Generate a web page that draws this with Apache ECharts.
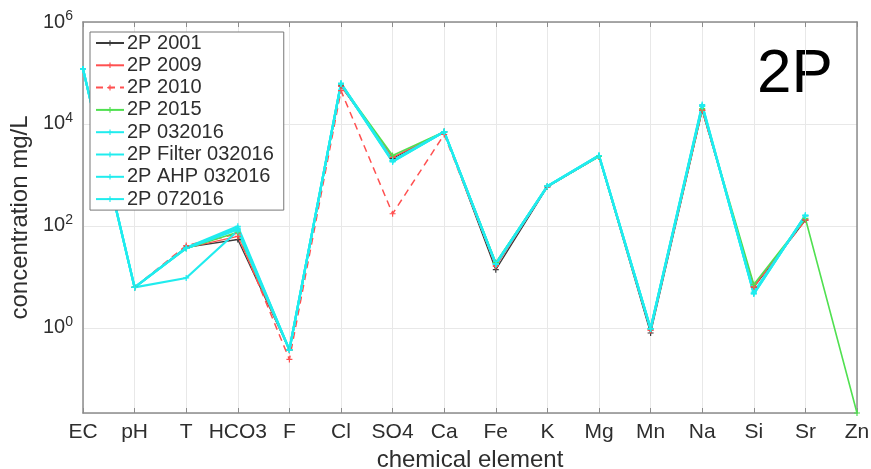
<!DOCTYPE html>
<html>
<head>
<meta charset="utf-8">
<script src="https://cdn.jsdelivr.net/npm/echarts@6/dist/echarts.min.js"></script>
<style>html,body{margin:0;padding:0;background:#fff}#c{width:871px;height:469px}</style>
</head>
<body>
<div id="c"></div>
<script>
const categories = ['EC','pH','T','HCO3','F','Cl','SO4','Ca','Fe','K','Mg','Mn','Na','Si','Sr','Zn'];
const seriesNames = ['2P 2001','2P 2009','2P 2010','2P 2015','2P 032016','2P Filter 032016','2P AHP 032016','2P 072016'];
const s2001       = [null, 6.2, 38, 54, 0.37, 56000, 2100, 7000, 13.8, 580, 2300, 0.79, 18500, 6.3, 130, null];
const s2009       = [null, 6.2, 37, 62, 0.36, 55000, 2200, 7000, 16, 590, 2300, 0.9, 19000, 6.5, 135, null];
const s2010       = [null, 6.2, 41, 70, 0.24, 45000, 173, 6200, 17, 600, 2300, 0.9, 18500, 6.3, 130, null];
const s2015       = [null, 6.2, 36, 75, 0.37, 60000, 2400, 7000, 19, 600, 2300, 0.95, 20000, 7.1, 140, 0.0213];
const s032016     = [120000, 6.2, 37, 98, 0.37, 63000, 1900, 7000, 18, 600, 2400, 0.97, 23000, 4.7, 160, null];
const sFilter     = [120000, 6.2, 37, 90, 0.37, 62000, 1850, 7000, 18, 600, 2400, 0.95, 22500, 4.8, 158, null];
const sAHP        = [120000, 6.2, 36, 85, 0.37, 61000, 1800, 7000, 17.5, 600, 2350, 0.95, 22000, 5.0, 155, null];
const s072016     = [120000, 6.2, 9.5, 80, 0.37, 62000, 1900, 7000, 18, 600, 2400, 0.97, 24000, 4.6, 162, null];
const seriesData = [s2001, s2009, s2010, s2015, s032016, sFilter, sAHP, s072016];

const colors = ['#3a3a3a','#ff5050','#ff5050','#50e050','#20ecee','#20ecee','#20ecee','#20ecee'];
const dashes = ['solid','solid','dashed','solid','solid','solid','solid','solid'];
const widths = [1.3,1.3,1.5,1.6,2.2,2.2,2.2,2.2];
const plus = 'path://M4,0H6V4H10V6H6V10H4V6H0V4H4Z';

const chart = echarts.init(document.getElementById('c'));
const txt = '#2e2e2e';
const axisCol = '#8c8c8c';
const yLabel = {
  show: true, margin: 10, color: txt,
  formatter: function (v) {
    const l = Math.log10(v);
    const e = Math.round(l);
    if (Math.abs(l - e) > 1e-6 || e % 2 !== 0) return '';
    return '{b|10}{s|' + e + '}';
  },
  rich: {
    b: { fontSize: 20, fontFamily: 'Liberation Sans', color: txt, lineHeight: 26 },
    s: { fontSize: 14, fontFamily: 'Liberation Sans', color: txt, verticalAlign: 'top', lineHeight: 26 }
  }
};
const option = {
  animation: false,
  backgroundColor: '#fff',
  textStyle: { fontFamily: 'Liberation Sans' },
  grid: { left: 83, right: 14, top: 22, bottom: 56, containLabel: false, outerBoundsMode: 'none' },
  legend: {
    orient: 'vertical', left: 90, top: 32,
    data: seriesNames,
    backgroundColor: '#fff', borderColor: '#777', borderWidth: 1,
    padding: [1, 10, 1, 5], itemGap: 2.3, itemWidth: 28, itemHeight: 7,
    textStyle: { fontSize: 20, lineHeight: 20, color: txt, fontFamily: 'Liberation Sans', padding: [0,0,0,-2] }
  },
  graphic: [{
    type: 'text', left: 757, top: 44,
    style: { text: '2P', font: '62px "Liberation Sans"', fill: '#000' }
  }],
  xAxis: [{
    type: 'category', data: categories, boundaryGap: false,
    name: 'chemical element', nameLocation: 'middle', nameGap: 33,
    nameTextStyle: { fontSize: 24, color: txt },
    axisLine: { lineStyle: { color: axisCol, width: 1.5 } },
    axisTick: { inside: true, length: 5, lineStyle: { color: axisCol } , alignWithLabel: true},
    axisLabel: { fontSize: 21, color: txt, margin: 9, interval: 0 },
    splitLine: { show: true, lineStyle: { color: '#e8e8e8', width: 1 } }
  }, {
    type: 'category', data: categories, boundaryGap: false, position: 'top',
    axisLine: { lineStyle: { color: axisCol, width: 1.5 } },
    axisTick: { inside: true, length: 5, lineStyle: { color: axisCol } },
    axisLabel: { show: false }, splitLine: { show: false }
  }],
  yAxis: [{
    type: 'log', logBase: 100, min: 0.0213, max: 1e6, splitNumber: 4,
    name: 'concentration mg/L', nameLocation: 'middle', nameGap: 49, nameRotate: 90,
    nameTextStyle: { fontSize: 24, color: txt },
    axisLine: { show: true, lineStyle: { color: axisCol, width: 1.5 } },
    axisTick: { inside: true, length: 5, lineStyle: { color: axisCol } },
    axisLabel: yLabel,
    splitLine: { show: true, lineStyle: { color: '#e8e8e8', width: 1 } }
  }, {
    type: 'log', logBase: 100, min: 0.0213, max: 1e6, splitNumber: 4, position: 'right',
    axisLine: { show: true, lineStyle: { color: axisCol, width: 1.5 } },
    axisTick: { inside: true, length: 5, lineStyle: { color: axisCol } },
    axisLabel: { show: false }, splitLine: { show: false }
  }],
  series: seriesNames.map(function (n, i) {
    return {
      name: n, type: 'line', data: seriesData[i], xAxisIndex: 0, yAxisIndex: 0,
      symbol: plus, symbolSize: 6, showSymbol: true, connectNulls: false,
      itemStyle: { color: colors[i] },
      lineStyle: { color: colors[i], width: widths[i], type: dashes[i] === 'dashed' ? [7, 5] : 'solid' },
      emphasis: { disabled: true }
    };
  })
};
chart.setOption(option);
</script>
</body>
</html>
